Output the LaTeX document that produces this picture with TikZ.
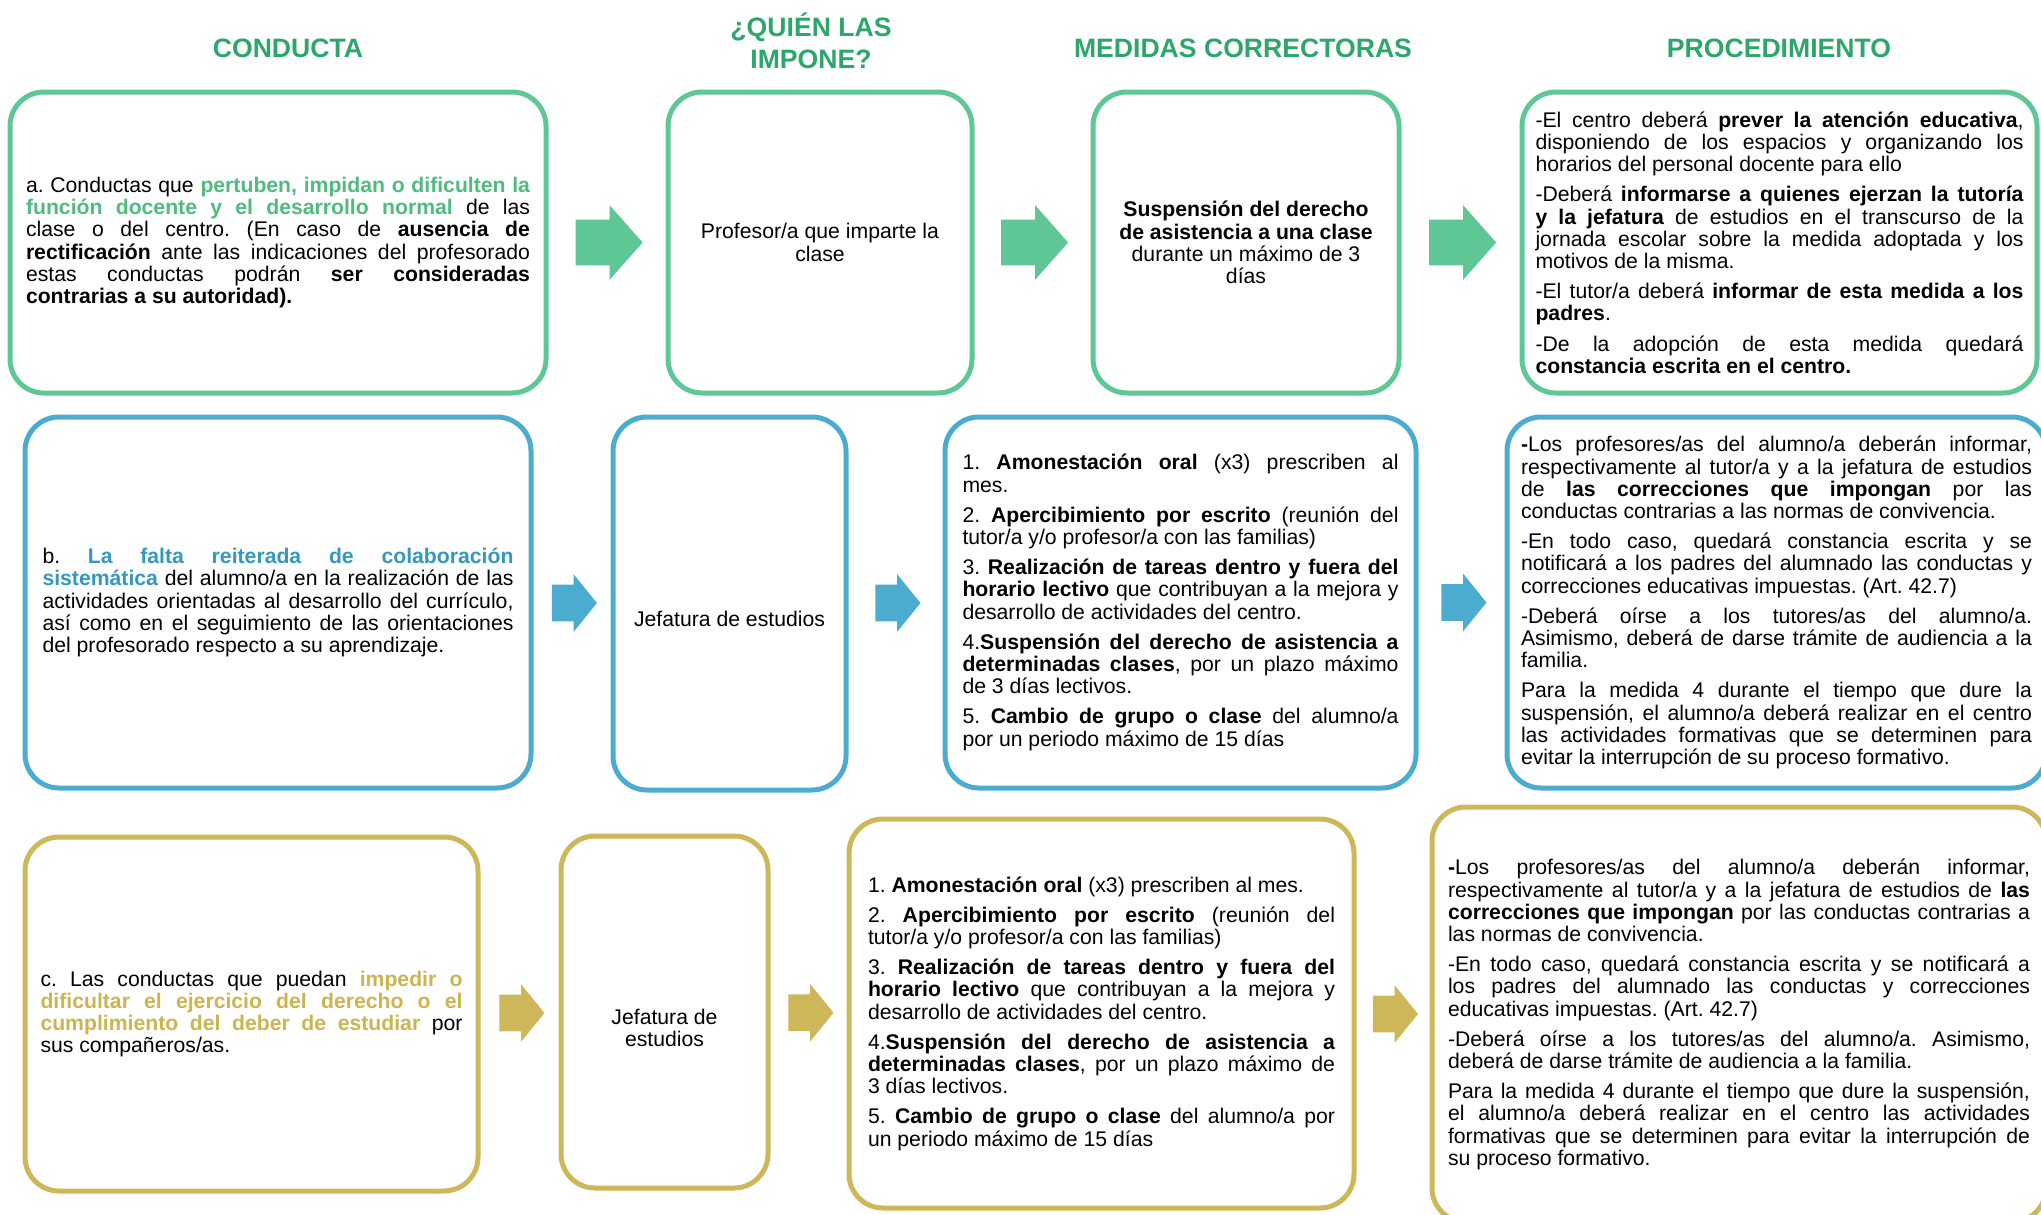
\documentclass[tikz,border=0pt]{standalone}
\usepackage{fontspec}
\setmainfont{Liberation Sans}[WordSpace={1,1,0}]
\usetikzlibrary{positioning, calc, shapes.arrows}

\definecolor{grnline}{RGB}{95,198,150}
\definecolor{grnhead}{RGB}{44,166,106}
\definecolor{grntext}{RGB}{80,186,128}
\definecolor{bluline}{RGB}{75,172,208}
\definecolor{blutext}{RGB}{52,152,192}
\definecolor{goldline}{RGB}{206,183,88}
\definecolor{goldtext}{RGB}{204,180,80}

\hyphenpenalty=10000
\exhyphenpenalty=10000
\tolerance=9999
\emergencystretch=2em
\lineskiplimit=-5pt
\hfuzz=20pt
\frenchspacing
\newcommand{\psep}{\par\vspace{4pt}}

\begin{document}
\begin{tikzpicture}[x=0.5pt, y=-0.5pt,
  head/.style={font=\fontsize{13.3}{16.3}\selectfont\bfseries, text=grnhead, align=center, inner sep=0},
  box/.style={draw=#1, line width=2.5pt, rounded corners=17pt, inner sep=0,
    font=\fontsize{10.6}{11.1}\selectfont},
  plain/.style={inner sep=0, align=center, font=\fontsize{10.6}{11.1}\selectfont},
  arrA/.style={single arrow, fill=#1, draw=none, inner xsep=0, inner ysep=11.25pt, xshift=-4pt,
    minimum height=33.5pt, single arrow head extend=7.25pt, single arrow tip angle=97},
  arrB/.style={single arrow, fill=#1, draw=none, inner xsep=0, inner ysep=9pt, xshift=-2.5pt,
    minimum height=22.5pt, single arrow head extend=5.25pt, single arrow tip angle=102}
]
\useasboundingbox (0,0) rectangle (2041,1215);

% cabeceras
\node[head] (hConducta) at (288,48) {CONDUCTA};
\node[head] (hQuien) at (811,41) {¿QUIÉN LAS\\IMPONE?};
\node[head] (hMedidas) at (1243,48) {MEDIDAS CORRECTORAS};
\node[head] (hProc) at (1779,48) {PROCEDIMIENTO};

% fila a
\node[box=grnline, minimum width=268pt, minimum height=150.5pt, text width=252pt, align=justify] (conductaA) at (278,242.5)
  {a. Conductas que \textcolor{grntext}{\bfseries pertuben, impidan o dificulten la\linebreak función docente y el desarrollo normal} de las clase o del centro. (En caso de \textbf{ausencia de rectificación} ante las indicaciones del profesorado estas conductas podrán \textbf{ser consideradas contrarias a su autoridad).}};
\node[box=grnline, minimum width=152pt, minimum height=150.5pt, align=center] (quienA) at (820,242.5)
  {Profesor/a que imparte la\\clase};
\node[box=grnline, minimum width=153pt, minimum height=150.5pt, align=center] (medidaA) at (1246,242.5)
  {\textbf{Suspensión del derecho}\\\textbf{de asistencia a una clase}\\durante un máximo de 3\\días};
\node[box=grnline, minimum width=257.5pt, minimum height=150.5pt, text width=244pt, align=justify] (procA) at (1779.5,242.5)
  {-El centro deberá \textbf{prever la atención educativa}, disponiendo de los espacios y organizando los horarios del personal docente para ello\psep
   -Deberá \textbf{informarse a quienes ejerzan la tutoría y la jefatura} de estudios en el transcurso de la jornada escolar sobre la medida adoptada y los motivos de la misma.\psep
   -El tutor/a deberá \textbf{informar de esta medida a los padres}.\psep
   -De la adopción de esta medida quedará \textbf{constancia escrita en el centro.}};

\node[arrA=grnline] (flechaA1) at ($(conductaA.east)!0.5!(quienA.west)$) {};
\node[arrA=grnline] (flechaA2) at ($(quienA.east)!0.5!(medidaA.west)$) {};
\node[arrA=grnline] (flechaA3) at ($(medidaA.east)!0.5!(procA.west)$) {};

% fila b
\node[box=bluline, minimum width=253pt, minimum height=185.5pt, text width=235.5pt, align=justify] (conductaB) at (278,602.5)
  {b. \textcolor{blutext}{\bfseries La falta reiterada de colaboración sistemática} del alumno/a en la realización de las actividades orientadas al desarrollo del currículo, así como en el seguimiento de las orientaciones del profesorado respecto a su aprendizaje.};
\node[box=bluline, minimum width=116.5pt, minimum height=186.5pt] (quienB) at (729.5,603.5) {};
\node[plain] (jefB) at ($(quienB.center)+(0,15)$) {Jefatura de estudios};
\node[box=bluline, minimum width=235.5pt, minimum height=185.5pt, text width=218pt, align=justify] (medidaB) at (1180.5,602.5)
  {1. \textbf{Amonestación oral} (x3) prescriben al\linebreak mes.\psep
   2. \textbf{Apercibimiento por escrito} (reunión del tutor/a y/o profesor/a con las familias)\psep
   3. \textbf{Realización de tareas dentro y fuera del horario lectivo} que contribuyan a la mejora y desarrollo de actividades del centro.\psep
   4.\textbf{Suspensión del derecho de asistencia a determinadas clases}, por un plazo máximo de 3 días lectivos.\psep
   5. \textbf{Cambio de grupo o clase} del alumno/a por un periodo máximo de 15 días};
\node[box=bluline, minimum width=269.5pt, minimum height=185.5pt, text width=255.5pt, align=justify] (procB) at (1776.5,602.5)
  {\textbf{-}Los profesores/as del alumno/a deberán informar, respectivamente al tutor/a y a la jefatura de estudios de \textbf{las correcciones que impongan} por las conductas contrarias a las normas de convivencia.\psep
   -En todo caso, quedará constancia escrita y se notificará a los padres del alumnado las conductas y correcciones educativas impuestas. (Art. 42.7)\psep
   -Deberá oírse a los tutores/as del alumno/a. Asimismo, deberá de darse trámite de audiencia a la\linebreak familia.\psep
   Para la medida 4 durante el tiempo que dure la suspensión, el alumno/a deberá realizar en el centro las actividades formativas que se determinen para evitar la interrupción de su proceso formativo.};

\node[arrB=bluline] (flechaB1) at ($(conductaB.east)!0.5!(quienB.west)$) {};
\node[arrB=bluline] (flechaB2) at ($(quienB.east)!0.5!(medidaB.west)$) {};
\node[arrB=bluline] (flechaB3) at ($(medidaB.east)!0.5!(procB.west)$) {};

% fila c
\node[box=goldline, minimum width=226.5pt, minimum height=177pt, text width=211pt, align=justify] (conductaC) at (251.5,1014)
  {c. Las conductas que puedan \textcolor{goldtext}{\bfseries impedir o dificultar el ejercicio del derecho o el cumplimiento del deber de estudiar} por sus compañeros/as.};
\node[box=goldline, minimum width=103.5pt, minimum height=176pt] (quienC) at (664.5,1012) {};
\node[plain] (jefC) at ($(quienC.center)+(0,16)$) {Jefatura de\\estudios};
\node[box=goldline, minimum width=252.5pt, minimum height=194.5pt, text width=233.5pt, align=justify] (medidaC) at (1101.5,1013.5)
  {1. \textbf{Amonestación oral} (x3) prescriben al mes.\psep
   2. \textbf{Apercibimiento por escrito} (reunión del tutor/a y/o profesor/a con las familias)\psep
   3. \textbf{Realización de tareas dentro y fuera del horario lectivo} que contribuyan a la mejora y desarrollo de actividades del centro.\psep
   4.\textbf{Suspensión del derecho de asistencia a determinadas clases}, por un plazo máximo de\linebreak 3 días lectivos.\psep
   5. \textbf{Cambio de grupo o clase} del alumno/a por un periodo máximo de 15 días};
\node[box=goldline, minimum width=307pt, minimum height=207.5pt, text width=291pt, align=justify] (procC) at (1739,1014.5)
  {\textbf{-}Los profesores/as del alumno/a deberán informar, respectivamente al tutor/a y a la jefatura de estudios de \textbf{las correcciones que impongan} por las conductas contrarias a las normas de convivencia.\psep
   -En todo caso, quedará constancia escrita y se notificará a\linebreak los padres del alumnado las conductas y correcciones educativas impuestas. (Art. 42.7)\psep
   -Deberá oírse a los tutores/as del alumno/a. Asimismo, deberá de darse trámite de audiencia a la familia.\psep
   Para la medida 4 durante el tiempo que dure la suspensión, el alumno/a deberá realizar en el centro las actividades formativas que se determinen para evitar la interrupción de su proceso formativo.};

\node[arrB=goldline] (flechaC1) at ($(conductaC.east)!0.5!(quienC.west)$) {};
\node[arrB=goldline] (flechaC2) at ($(quienC.east)!0.5!(medidaC.west)$) {};
\node[arrB=goldline] (flechaC3) at ($(medidaC.east)!0.5!(procC.west)$) {};
\end{tikzpicture}
\end{document}
